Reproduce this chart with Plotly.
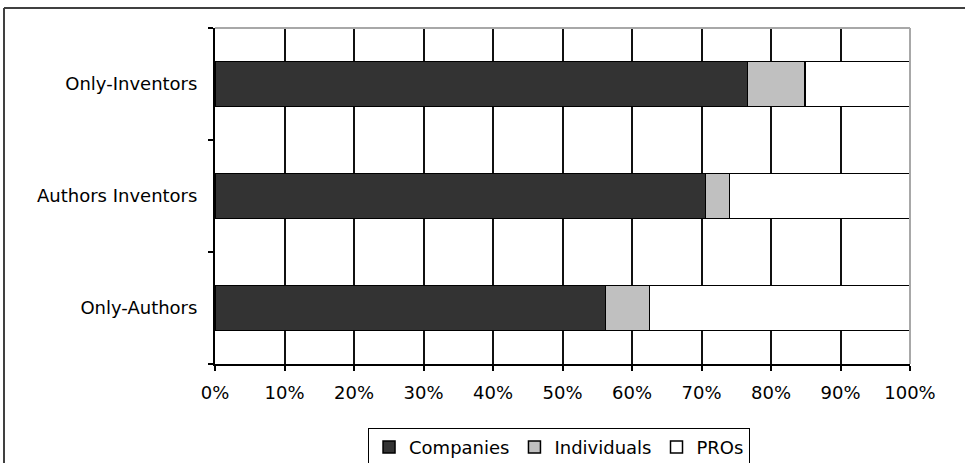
import plotly.graph_objects as go

categories = ["Only-Authors", "Authors Inventors", "Only-Inventors"]
companies = [56.2, 70.6, 76.6]
individuals = [6.3, 3.4, 8.3]
pros = [37.5, 26.0, 15.1]
tick_vals = [0, 10, 20, 30, 40, 50, 60, 70, 80, 90, 100]
tick_text = ["0%", "10%", "20%", "30%", "40%", "50%", "60%", "70%", "80%", "90%", "100%"]

FONT = "DejaVu Sans"

fig = go.Figure()
series = [("Companies", companies, "#333333"),
          ("Individuals", individuals, "#c0c0c0"),
          ("PROs", pros, "#ffffff")]
for name, vals, col in series:
    fig.add_trace(go.Bar(
        name=name, y=categories, x=vals, orientation="h",
        marker=dict(color=col, line=dict(color="#000000", width=1.5)),
    ))

fig.update_layout(
    barmode="stack",
    bargap=0.6,
    width=965, height=463,
    margin=dict(l=215, r=55, t=28, b=99, autoexpand=False),
    paper_bgcolor="white", plot_bgcolor="white",
    font=dict(family=FONT, size=18, color="#000000"),
    showlegend=True,
    legend=dict(orientation="h", x=0.495, xanchor="center", y=-0.19, yanchor="top",
                bordercolor="#000000", borderwidth=1, traceorder="normal",
                font=dict(family=FONT, size=18, color="#000000"),
                bgcolor="white"),
    xaxis=dict(range=[0, 100], tickmode="array", tickvals=tick_vals, ticktext=tick_text,
               showgrid=True, gridcolor="#111111", gridwidth=2,
               showline=True, linecolor="#000000", linewidth=2,
               ticks="outside", ticklen=5, tickcolor="#000000", tickwidth=2,
               zeroline=False, ticklabelstandoff=6,
               tickfont=dict(family=FONT, size=18, color="#000000"), fixedrange=True),
    yaxis=dict(categoryorder="array", categoryarray=categories,
               showgrid=False, showline=True, linecolor="#000000", linewidth=2,
               ticks="outside", tickson="boundaries", ticklen=5, tickcolor="#000000",
               tickwidth=2, ticklabelstandoff=12, zeroline=False,
               tickfont=dict(family=FONT, size=18, color="#000000"), fixedrange=True),
    shapes=[
        # plot area top and right border (gray)
        dict(type="line", xref="paper", yref="paper", x0=0, x1=1, y0=1, y1=1,
             line=dict(color="#a8a8a8", width=2), layer="above"),
        dict(type="line", xref="paper", yref="paper", x0=1, x1=1, y0=0, y1=1,
             line=dict(color="#a8a8a8", width=2), layer="above"),
        # outer chart frame (cut by image edges)
        dict(type="line", xref="paper", yref="paper", x0=-0.3036, x1=1.2, y0=1.0595, y1=1.0595,
             line=dict(color="#404040", width=2)),
        dict(type="line", xref="paper", yref="paper", x0=-0.3036, x1=-0.3036, y0=1.0595, y1=-0.4,
             line=dict(color="#404040", width=2)),
    ],
)

fig.write_html("out.html",
               config={"displayModeBar": False, "staticPlot": True},
               post_script="document.body.style.margin='0';document.body.style.padding='0';document.body.style.overflow='hidden';")
